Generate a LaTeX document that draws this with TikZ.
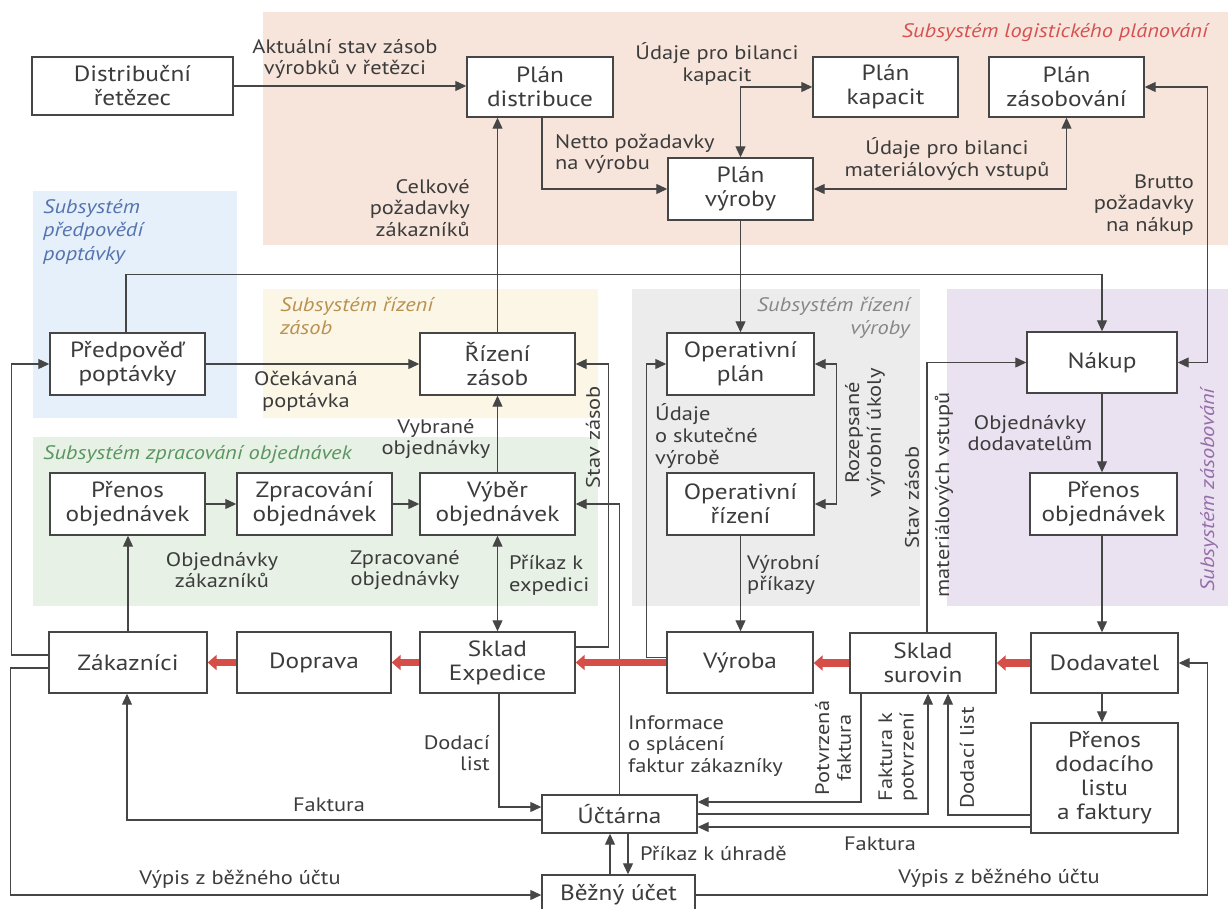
\documentclass[tikz,border=0pt]{standalone}
\usepackage{fontspec}
\setmainfont{PT Sans}[FakeStretch=1.15]
\usetikzlibrary{arrows.meta,calc}

\definecolor{linec}{RGB}{70,70,70}
\definecolor{txt}{RGB}{60,60,60}
\definecolor{flowred}{RGB}{214,78,72}
\definecolor{bgplan}{RGB}{247,229,219}
\definecolor{bgfore}{RGB}{229,240,250}
\definecolor{bgstock}{RGB}{251,246,229}
\definecolor{bgorder}{RGB}{232,241,229}
\definecolor{bgprod}{RGB}{236,236,236}
\definecolor{bgsupply}{RGB}{234,226,240}
\definecolor{tplan}{RGB}{214,82,82}
\definecolor{tfore}{RGB}{85,115,175}
\definecolor{tstock}{RGB}{185,145,80}
\definecolor{torder}{RGB}{90,150,95}
\definecolor{tprod}{RGB}{135,135,135}
\definecolor{tsupply}{RGB}{150,110,170}

\newcommand\bxfont{\fontsize{22}{24}\selectfont}
\newcommand\lbfont{\fontsize{19.5}{21.7}\selectfont}
\newcommand\rgfont{\fontsize{19.5}{23.5}\selectfont\itshape}

\tikzset{
  box/.style={draw=linec, line width=1.4pt, fill=white, text=txt, font=\bxfont,
    align=center, inner sep=0pt},
  conn/.style={draw=linec, line width=1.1pt},
  arr/.style={conn, -{Triangle[length=11pt,width=10pt]}},
  arrboth/.style={conn, {Triangle[length=11pt,width=10pt]}-{Triangle[length=11pt,width=10pt]}},
  flow/.style={draw=flowred, line width=7.5pt, -{Triangle[length=9pt,width=15pt]}},
  lbl/.style={text=txt, font=\lbfont, align=center, inner sep=0pt},
  region/.style={text=#1, font=\rgfont, inner sep=0pt},
}

\begin{document}
\begin{tikzpicture}[x=1pt,y=-1pt]
\useasboundingbox (0,0) rectangle (1228,909);
\begin{scope}
\clip (0,0) rectangle (1228,909);
\fill[white] (0,0) rectangle (1228,909);

% subsystem areas
\fill[bgplan]   (263,12)  rectangle (1228,245);
\fill[bgfore]   (33,191)  rectangle (237,418);
\fill[bgstock]  (263,289) rectangle (598,418);
\fill[bgorder]  (33,437)  rectangle (598,606);
\fill[bgprod]   (632,289) rectangle (920,606);
\fill[bgsupply] (947,289) rectangle (1228,606);

\node[region=tplan, anchor=east] (rplan) at (1208,33) {Subsystém logistického plánování};
\node[region=tfore, anchor=north west, align=left] (rfore) at (43,199) {Subsystém\\předpovědí\\poptávky};
\node[region=tstock, anchor=north west, align=left] (rstock) at (280,297) {Subsystém řízení\\zásob};
\node[region=torder, anchor=west] (rorder) at (43,455) {Subsystém zpracování objednávek};
\node[region=tprod, anchor=north east, align=right] (rprod) at (910,297) {Subsystém řízení\\výroby};
\node[region=tsupply, rotate=90] (rsupply) at (1209,490) {Subsystém zásobování};

% boxes
\node[box, minimum width=201pt, minimum height=58pt] (dist)   at (132.5,86)  {Distribuční\\řetězec};
\node[box, minimum width=146pt, minimum height=60pt] (pdist)  at (540,87)    {Plán\\distribuce};
\node[box, minimum width=145pt, minimum height=60pt] (pkap)   at (885.5,87)  {Plán\\kapacit};
\node[box, minimum width=155pt, minimum height=60pt] (pzas)   at (1066.5,87) {Plán\\zásobování};
\node[box, minimum width=145pt, minimum height=62pt] (pvyr)   at (740.5,189) {Plán\\výroby};
\node[box, minimum width=155pt, minimum height=62pt] (pred)   at (127.5,364) {Předpověď\\poptávky};
\node[box, minimum width=155pt, minimum height=62pt] (rizz)   at (497.5,364) {Řízení\\zásob};
\node[box, minimum width=147pt, minimum height=62pt] (opplan) at (740.5,364) {Operativní\\plán};
\node[box, minimum width=150pt, minimum height=61pt] (nakup)  at (1102,362.5) {Nákup};
\node[box, minimum width=155pt, minimum height=62pt] (prenL)  at (127.5,504) {Přenos\\objednávek};
\node[box, minimum width=155pt, minimum height=62pt] (zprac)  at (314.5,504) {Zpracování\\objednávek};
\node[box, minimum width=155pt, minimum height=62pt] (vyber)  at (497.5,504) {Výběr\\objednávek};
\node[box, minimum width=147pt, minimum height=62pt] (opriz)  at (740.5,504) {Operativní\\řízení};
\node[box, minimum width=147pt, minimum height=62pt] (prenR)  at (1103.5,504) {Přenos\\objednávek};
\node[box, minimum width=158pt, minimum height=61pt] (zak)    at (128,662.5) {Zákazníci};
\node[box, minimum width=154pt, minimum height=61pt] (doprava) at (314,662.5) {Doprava};
\node[box, minimum width=155pt, minimum height=61pt] (sklexp) at (497.5,662.5) {Sklad\\Expedice};
\node[box, minimum width=146pt, minimum height=61pt] (vyroba) at (740,662.5) {Výroba};
\node[box, minimum width=146pt, minimum height=60pt] (sklsur) at (923,663)   {Sklad\\surovin};
\node[box, minimum width=147pt, minimum height=60pt] (dodav)  at (1104.5,663) {Dodavatel};
\node[box, minimum width=147pt, minimum height=110pt] (prendod) at (1104.5,778) {Přenos\\dodacího\\listu\\a faktury};
\node[box, minimum width=155pt, minimum height=38pt] (uctarna) at (619.5,814) {Účtárna};
\node[box, minimum width=153pt, minimum height=40pt] (bezny)  at (618.5,895) {Běžný účet};

% planning connectors
\draw[arr] (dist.east) -- (dist.east -| pdist.west);
\node[lbl] (l1) at (345,59) {Aktuální stav zásob\\výrobků v řetězci};

\draw[arr] ($(pdist.south)+(2,0)$) |- (pvyr.west);
\node[lbl, anchor=west, align=left] (l2) at (555,154) {Netto požadavky\\na výrobu};

\draw[arr] (rizz.north) -- (rizz.north |- pdist.south);
\node[lbl, anchor=east, align=right] (l3) at (470,208) {Celkové\\požadavky\\zákazníků};

\draw[arrboth] (pvyr.north) |- (pkap.west);
\node[lbl] (l4) at (717,64) {Údaje pro bilanci\\kapacit};

\draw[arrboth] (pzas.south) |- (pvyr.east);
\node[lbl] (l5) at (947,159) {Údaje pro bilanci\\materiálových vstupů};

\draw[arrboth] (pzas.east) -- ++(63,0) |- (nakup.east);
\node[lbl, anchor=east, align=right] (l6) at (1194,205) {Brutto\\požadavky\\na nákup};

\draw[arr] (pvyr.south) -- (opplan.north);

\draw[arr] ($(pred.north)+(-1.5,0)$) -- ++(0,-58) -| (nakup.north);

% inventory and order processing
\draw[arr] (pred.east) -- (rizz.west);
\node[lbl] (l7) at (306,391) {Očekávaná\\poptávka};

\draw[arr] (vyber.north) -- (rizz.south);
\node[lbl] (l8) at (436,439) {Vybrané\\objednávky};

\draw[arr] (prenL.east) -- (zprac.west);
\draw[arr] (zprac.east) -- (vyber.west);

\draw[arr] (zak.north) -- (zak.north |- prenL.south);
\node[lbl] (l9) at (222,570) {Objednávky\\zákazníků};
\node[lbl] (l10) at (405,570) {Zpracované\\objednávky};

\draw[arrboth] (sklexp.north) -- (vyber.south);
\node[lbl, anchor=west, align=left] (l11) at (509,575) {Příkaz k\\expedici};

\draw[arr] ($(sklexp.east)+(0,-15.5)$) -- ++(33,0) |- (rizz.east);
\node[lbl, rotate=90] (l12) at (593,437) {Stav zásob};

\draw[arr] (uctarna.north) |- (vyber.east);
\node[lbl, anchor=west, align=left] (l13) at (628,746) {Informace\\o splácení\\faktur zákazníky};

% production control
\draw[arr] ($(vyroba.west)+(0,-5)$) -- ++(-20,0) |- (opplan.west);
\node[lbl, anchor=west, align=left] (l14) at (655,436) {Údaje\\o skutečné\\výrobě};

\draw[arrboth] (opplan.east) -- ++(22,0) |- (opriz.east);
\node[lbl, rotate=90] (l15) at (865,433) {Rozepsané\\výrobní úkoly};

\draw[arr] (opriz.south) -- (opriz.south |- vyroba.north);
\node[lbl, anchor=west, align=left] (l16) at (747,575) {Výrobní\\příkazy};

% supply
\draw[arr] ($(sklsur.north)+(4,0)$) |- (nakup.west);
\node[lbl, rotate=90] (l17) at (912,497) {Stav zásob};
\node[lbl, rotate=90] (l18) at (944,495) {materiálových vstupů};

\draw[arr] (nakup.south) -- (nakup.south |- prenR.north);
\node[lbl] (l19) at (1030,433) {Objednávky\\dodavatelům};

\draw[arr] (nakup.south |- prenR.south) -- (nakup.south |- dodav.north);
\draw[arr] (nakup.south |- dodav.south) -- (nakup.south |- prendod.north);

% material flow
\draw[flow] (dodav.west) -- (sklsur.east);
\draw[flow] (sklsur.west) -- (sklsur.west -| vyroba.east);
\draw[flow] (vyroba.west) -- (vyroba.west -| sklexp.east);
\draw[flow] (sklexp.west) -- (doprava.east);
\draw[flow] (doprava.west) -- (zak.east);

% documents and accounting
\draw[arr] ($(prendod.west)+(0,37)$) -| ($(sklsur.south)+(25,0)$);
\node[lbl, rotate=90] (l20) at (967,758) {Dodací list};

\draw[arr] ($(sklsur.south)+(-62,0)$) |- ($(uctarna.east)+(0,-12)$);
\node[lbl, rotate=90] (l21) at (833,748) {Potvrzená\\faktura};

\draw[arr] (uctarna.east) -| ($(sklsur.south)+(5,0)$);
\node[lbl, rotate=90] (l22) at (898,757) {Faktura k\\potvrzení};

\draw[arr] ($(prendod.west)+(0,49)$) -- ($(uctarna.east)+(0,13)$);
\node[lbl] (l23) at (880,844) {Faktura};

\draw[arr] ($(sklexp.south)+(1.5,0)$) |- ($(uctarna.west)+(0,-7)$);
\node[lbl, anchor=east, align=right] (l24) at (490,753) {Dodací\\list};

\draw[arr] ($(uctarna.west)+(0,6)$) -| ($(zak.south)+(-1,0)$);
\node[lbl] (l25) at (329,805) {Faktura};

\draw[arr] ($(bezny.north)+(-8.5,0)$) -- ($(uctarna.south)+(-9.5,0)$);
\draw[arr] ($(uctarna.south)+(8.5,0)$) -- ($(bezny.north)+(9.5,0)$);
\node[lbl, anchor=west] (l26) at (640,853) {Příkaz k úhradě};

\draw[arr] ($(zak.west)+(0,5.5)$) -- ++(-38,0) |- (bezny.west);
\node[lbl] (l27) at (240,879) {Výpis z běžného účtu};

\draw[arr] ($(zak.west)+(0,-7.5)$) -- ++(-37,0) |- (pred.west);

\draw[arr] (bezny.east) -- ++(512,0) |- (dodav.east);
\node[lbl] (l28) at (999,878) {Výpis z běžného účtu};
\end{scope}
\end{tikzpicture}
\end{document}
